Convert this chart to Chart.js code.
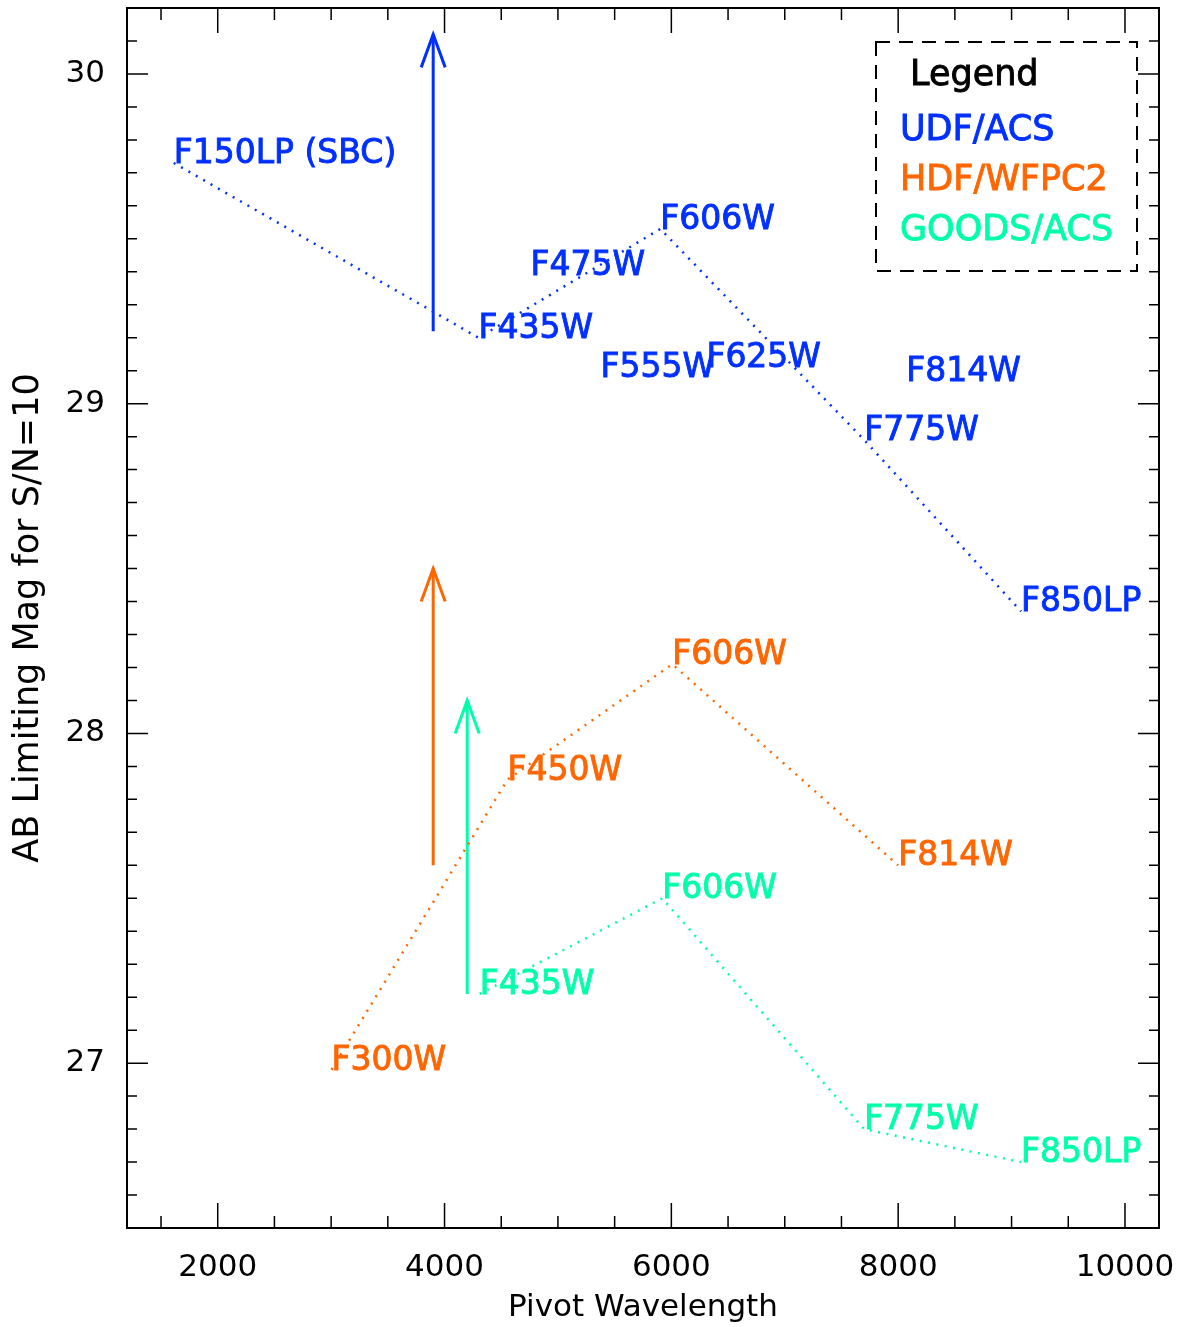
<!DOCTYPE html>
<html>
<head>
<meta charset="utf-8">
<script src="https://cdn.jsdelivr.net/npm/chart.js@4.4.1/dist/chart.umd.min.js"></script>
<style>
  html, body { margin: 0; padding: 0; background: #fff; }
  canvas { display: block; }
</style>
</head>
<body>
<canvas id="limitChart" width="1181" height="1327"></canvas>
<script>
/* limitingMag.js */

// UDF/ACS
const udfFilters = ['F150LP (SBC)', 'F435W', 'F475W', 'F555W', 'F606W', 'F625W', 'F775W', 'F814W', 'F850LP'];
const udfWave = [1612, 4300, 4758, 5375, 5903, 6309, 7701, 8071, 9084];
const udfMag = [29.73, 29.20, 29.39, 29.08, 29.53, 29.11, 28.89, 29.07, 28.37];
const udfOnLine = [1, 1, 0, 0, 1, 0, 1, 0, 1];

// HDF/WFPC2
const hdfFilters = ['F300W', 'F450W', 'F606W', 'F814W'];
const hdfWave = [3004, 4555, 6009, 8000];
const hdfMag = [26.98, 27.86, 28.21, 27.60];

// GOODS/ACS
const goodsFilters = ['F435W', 'F606W', 'F775W', 'F850LP'];
const goodsWave = [4310, 5920, 7700, 9084];
const goodsMag = [27.21, 27.50, 26.80, 26.70];

// 矢印 (UDF, HDF, GOODS)
const arrowWave = [3900, 3900, 4200];
const arrowFrom = [29.22, 27.60, 27.21];
const arrowTo = [30.12, 28.50, 28.10];

const groupNames = ['UDF/ACS', 'HDF/WFPC2', 'GOODS/ACS'];
const groupColors = ['#0030ff', '#ff6600', '#00ffaa'];
const legendTitle = 'Legend';

const xTicks = [2000, 4000, 6000, 8000, 10000];
const yTicks = [27, 28, 29, 30];

const FONT = "'DejaVu Sans', sans-serif";


function toPoints(wave, mag, mask) {
  const pts = [];
  for (let i = 0; i < wave.length; i++) {
    if (!mask || mask[i]) pts.push({x: wave[i], y: mag[i]});
  }
  return pts;
}

// 少し太めの文字
function thickText(ctx, text, x, y, color) {
  ctx.fillStyle = color;
  ctx.strokeStyle = color;
  ctx.lineWidth = 0.9;
  ctx.fillText(text, x, y);
  ctx.strokeText(text, x, y);
}

// 目盛り(内向き、四辺)と枠
const frameTicks = {
  id: 'frameTicks',
  afterDraw(chart) {
    const {ctx, chartArea: a, scales: {x, y}} = chart;
    ctx.save();
    ctx.strokeStyle = '#000';
    ctx.lineWidth = 1.5;
    ctx.beginPath();
    for (let v = 1500; v <= 10500; v += 500) {
      const px = x.getPixelForValue(v);
      if (px <= a.left || px >= a.right) continue;
      const len = v % 2000 === 0 ? 25 : 12;
      ctx.moveTo(px, a.bottom); ctx.lineTo(px, a.bottom - len);
      ctx.moveTo(px, a.top); ctx.lineTo(px, a.top + len);
    }
    for (let k = 265; k <= 302; k++) {
      const py = y.getPixelForValue(k / 10);
      if (py <= a.top || py >= a.bottom) continue;
      const len = k % 10 === 0 ? 21 : 10;
      ctx.moveTo(a.left, py); ctx.lineTo(a.left + len, py);
      ctx.moveTo(a.right, py); ctx.lineTo(a.right - len, py);
    }
    ctx.stroke();
    ctx.lineWidth = 2;
    ctx.strokeRect(a.left, a.top, a.right - a.left, a.bottom - a.top);
    ctx.restore();
  }
};

// フィルター名と矢印の先
const filterLabels = {
  id: 'filterLabels',
  afterDatasetsDraw(chart) {
    const {ctx, scales: {x, y}} = chart;
    const groups = [
      [udfFilters, udfWave, udfMag],
      [hdfFilters, hdfWave, hdfMag],
      [goodsFilters, goodsWave, goodsMag],
    ];
    ctx.save();
    ctx.font = `33px ${FONT}`;
    ctx.textAlign = 'left';
    ctx.textBaseline = 'alphabetic';
    groups.forEach(([names, wave, mag], g) => {
      names.forEach((name, i) => {
        thickText(ctx, name, x.getPixelForValue(wave[i]), y.getPixelForValue(mag[i]), groupColors[g]);
      });
    });

    ctx.lineWidth = 3;
    arrowWave.forEach((w, g) => {
      const px = x.getPixelForValue(w);
      const py = y.getPixelForValue(arrowTo[g]);
      ctx.strokeStyle = groupColors[g];
      ctx.beginPath();
      ctx.moveTo(px - 12, py + 33);
      ctx.lineTo(px, py);
      ctx.lineTo(px + 12, py + 33);
      ctx.stroke();
    });
    ctx.restore();
  }
};

// 凡例 (破線の箱)
const boxLegend = {
  id: 'boxLegend',
  afterDraw(chart) {
    const {ctx, chartArea: a} = chart;
    const left = a.right - 283;
    const top = a.top + 34;
    ctx.save();
    ctx.strokeStyle = '#000';
    ctx.lineWidth = 2;
    ctx.setLineDash([14, 9]);
    ctx.strokeRect(left, top, 261, 229);
    ctx.setLineDash([]);
    ctx.font = `35px ${FONT}`;
    ctx.textBaseline = 'alphabetic';
    thickText(ctx, legendTitle, left + 34, top + 43, '#000');
    groupNames.forEach((name, i) => {
      thickText(ctx, name, left + 24, top + 98 + i * 50, groupColors[i]);
    });
    ctx.restore();
  }
};


class MyLimitChart {
  constructor(id) {
    this.id = id;
    this.createChart();
  }

  dotted(color, data) {
    return {
      data: data,
      borderColor: color,
      borderWidth: 2.5,
      borderDash: [2, 6.5],
      showLine: true,
      fill: false,
      pointRadius: 0,
    };
  }

  createData() {
    const datasets = [
      this.dotted(groupColors[0], toPoints(udfWave, udfMag, udfOnLine)),
      this.dotted(groupColors[1], toPoints(hdfWave, hdfMag)),
      this.dotted(groupColors[2], toPoints(goodsWave, goodsMag)),
    ];
    arrowWave.forEach((w, g) => {
      datasets.push({
        data: [{x: w, y: arrowFrom[g]}, {x: w, y: arrowTo[g]}],
        borderColor: groupColors[g],
        borderWidth: 3,
        showLine: true,
        pointRadius: 0,
      });
    });
    return {datasets: datasets};
  }

  createConfig(inputData) {
    const config = {
      type: 'scatter',
      data: inputData,
      options: {
        responsive: false,
        animation: false,
        devicePixelRatio: 1,
        layout: { padding: { top: 8, right: 22, left: 0, bottom: 0 } },
        scales: {
          x: {
            type: 'linear',
            min: 1200,
            max: 10300,
            grid: { display: false },
            border: { display: false },
            afterBuildTicks: (s) => { s.ticks = xTicks.map(v => ({value: v})); },
            afterFit: (s) => {
              s.height = 99;
              s.paddingLeft = 0;
              s.paddingRight = 0;
            },
            ticks: {
              padding: 13,
              color: '#000',
              font: { family: FONT, size: 31 },
              callback: (v) => String(v),
            },
            title: {
              display: true,
              text: 'Pivot Wavelength',
              color: '#000',
              font: { family: FONT, size: 31 },
              padding: { top: 0, bottom: 0 },
            },
          },
          y: {
            min: 26.5,
            max: 30.2,
            grid: { display: false },
            border: { display: false },
            afterBuildTicks: (s) => { s.ticks = yTicks.map(v => ({value: v})); },
            afterFit: (s) => {
              s.width = 127;
              s.paddingTop = 0;
              s.paddingBottom = 0;
            },
            ticks: {
              padding: 14,
              color: '#000',
              font: { family: FONT, size: 31 },
              callback: (v) => String(v),
            },
            title: {
              display: true,
              text: 'AB Limiting Mag for S/N=10',
              color: '#000',
              font: { family: FONT, size: 35 },
              padding: { top: 8, bottom: 0 },
            },
          },
        },
        plugins: {
          legend: { display: false },
          tooltip: { enabled: false },
        },
      },
      plugins: [frameTicks, filterLabels, boxLegend],
    };
    return config;
  }

  createChart() {
    const data = this.createData();
    const config = this.createConfig(data);
    const ctx = document.getElementById(this.id).getContext('2d');
    new Chart(ctx, config);
  }
}

const c1 = new MyLimitChart('limitChart');
</script>
</body>
</html>
